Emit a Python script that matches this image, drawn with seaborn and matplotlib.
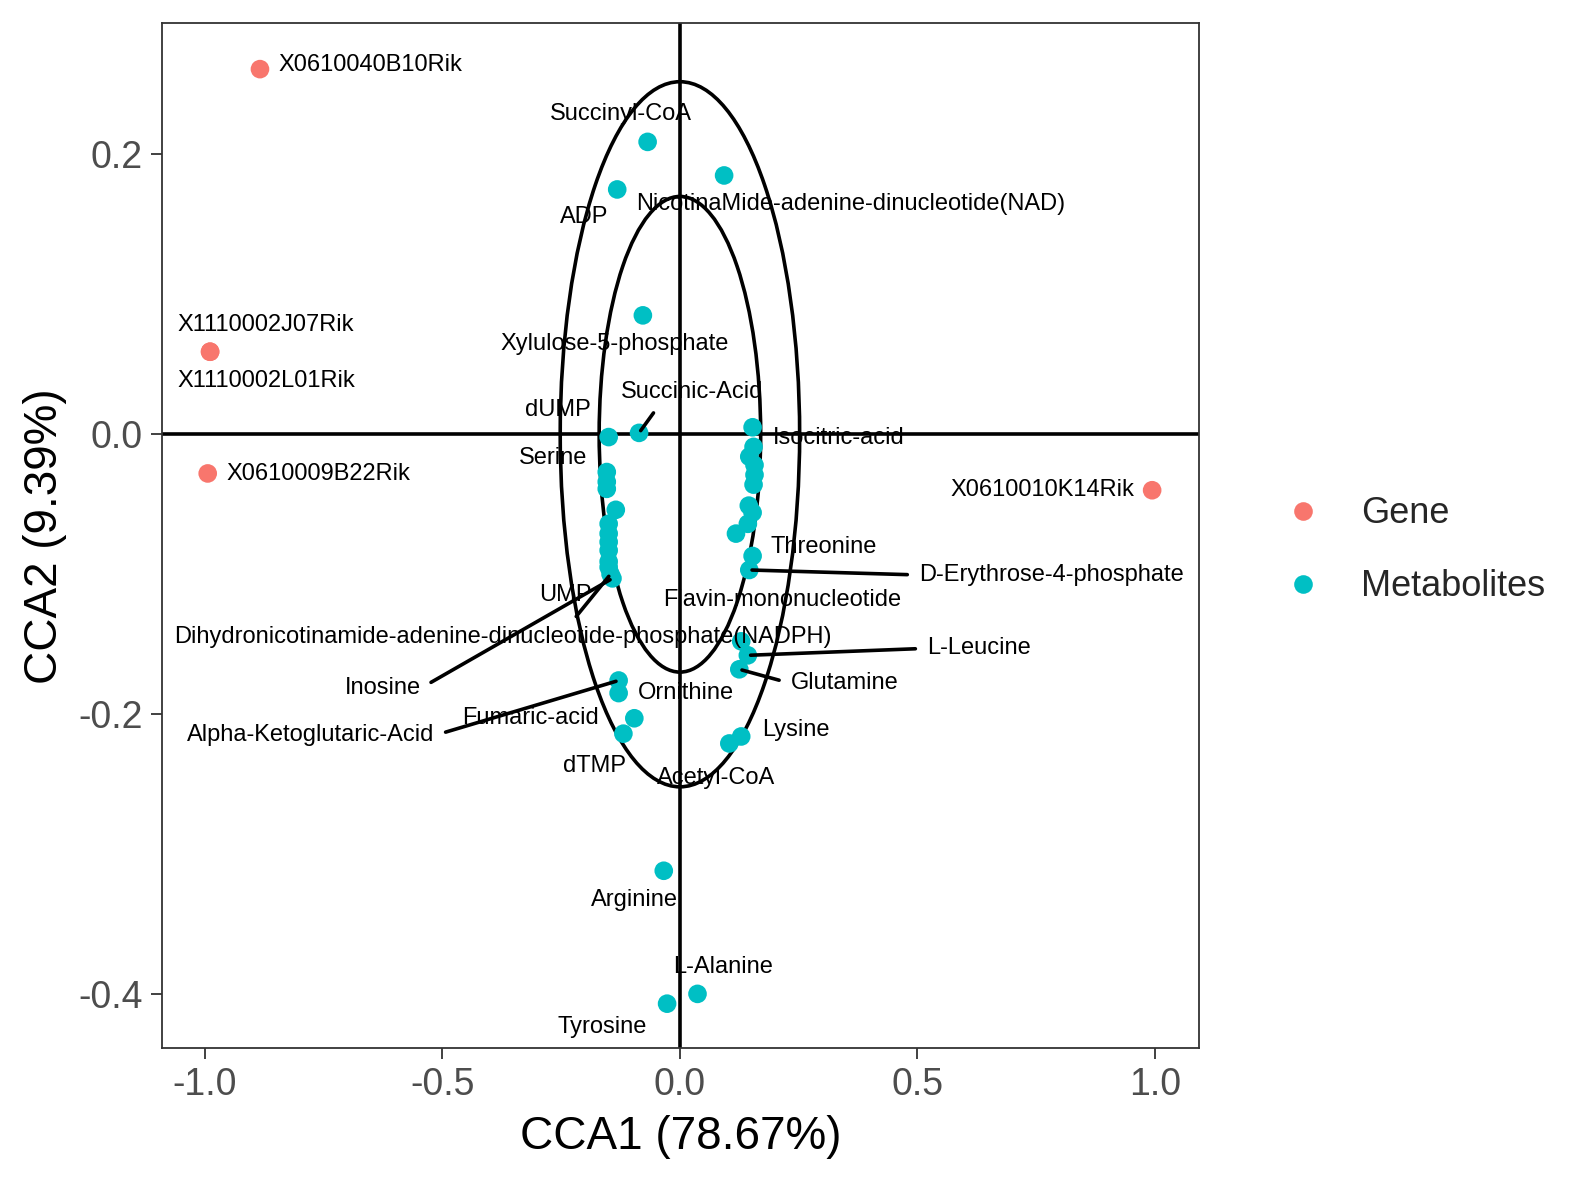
"""CCA biplot of genes and metabolites with correlation circles."""

import pandas as pd
import matplotlib
matplotlib.use("Agg")
import matplotlib.pyplot as plt
from matplotlib.patches import Ellipse
import seaborn as sns

sns.set_theme(style="white")
plt.rcParams['font.family'] = ['Liberation Sans', 'DejaVu Sans']

# Gene scores
gene_names = ["X0610040B10Rik", "X1110002J07Rik", "X1110002L01Rik",
              "X0610009B22Rik", "X0610010K14Rik"]
gene_x = [-0.884, -0.989, -0.989, -0.994, 0.994]
gene_y = [0.261, 0.059, 0.059, -0.028, -0.040]

# Metabolite scores ("" = point without a label)
met_names = [
    "Succinyl-CoA", "NicotinaMide-adenine-dinucleotide(NAD)", "ADP",
    "Xylulose-5-phosphate", "Succinic-Acid", "dUMP", "Isocitric-acid",
    # left cluster
    "Serine", "", "", "", "", "", "", "", "UMP", "",
    "Dihydronicotinamide-adenine-dinucleotide-phosphate(NADPH)", "Inosine",
    # right cluster
    "", "", "", "", "", "", "", "", "Flavin-mononucleotide", "Threonine",
    "D-Erythrose-4-phosphate",
    # lower right
    "", "L-Leucine", "Glutamine", "Lysine", "Acetyl-CoA",
    # lower left
    "Alpha-Ketoglutaric-Acid", "Ornithine", "Fumaric-acid", "dTMP",
    # bottom
    "Arginine", "L-Alanine", "Tyrosine",
]
met_x = [
    -0.068, 0.093, -0.132, -0.078, -0.086, -0.150, 0.153,
    -0.154, -0.154, -0.154, -0.135, -0.150, -0.150, -0.150, -0.150, -0.150, -0.150,
    -0.146, -0.142,
    0.155, 0.146, 0.157, 0.157, 0.155, 0.145, 0.153, 0.143, 0.118, 0.153, 0.146,
    0.129, 0.143, 0.125, 0.129, 0.104,
    -0.129, -0.129, -0.096, -0.119,
    -0.034, 0.037, -0.027,
]
met_y = [
    0.209, 0.185, 0.175, 0.085, 0.001, -0.002, 0.005,
    -0.027, -0.034, -0.039, -0.054, -0.064, -0.071, -0.077, -0.083, -0.091, -0.095,
    -0.100, -0.103,
    -0.009, -0.016, -0.022, -0.029, -0.036, -0.051, -0.056, -0.064, -0.071, -0.087,
    -0.097,
    -0.148, -0.158, -0.168, -0.216, -0.221,
    -0.176, -0.185, -0.203, -0.214,
    -0.312, -0.400, -0.407,
]

# Label placement (offset in pixels from point; relpos for a leader segment)
LABEL_OFFSETS = {
    "X0610040B10Rik": (110, 4, None),
    "X1110002J07Rik": (56, 27, None),
    "X1110002L01Rik": (56, -29, None),
    "X0610009B22Rik": (111, -1, None),
    "X0610010K14Rik": (-110, 0, None),
    "Succinyl-CoA": (-27, 28, None),
    "NicotinaMide-adenine-dinucleotide(NAD)": (127, -29, None),
    "ADP": (-33, -28, None),
    "Xylulose-5-phosphate": (-28, -29, None),
    "Succinic-Acid": (53, 41, (0.28, 0.0)),
    "dUMP": (-51, 27, None),
    "Isocitric-acid": (86, -11, None),
    "Serine": (-54, 14, None),
    "Threonine": (71, 9, None),
    "D-Erythrose-4-phosphate": (302, -5, (0.0, 0.5)),
    "UMP": (-43, -33, None),
    "Flavin-mononucleotide": (46, -66, None),
    "Dihydronicotinamide-adenine-dinucleotide-phosphate(NADPH)": (-108, -63, (0.6, 1.0)),
    "L-Leucine": (231, 7, (0.0, 0.5)),
    "Inosine": (-230, -110, (1.0, 0.5)),
    "Glutamine": (105, -14, (0.0, 0.5)),
    "Ornithine": (67, 0, None),
    "Alpha-Ketoglutaric-Acid": (-308, -55, (1.0, 0.5)),
    "Fumaric-acid": (-104, 0, None),
    "Lysine": (55, 6, None),
    "dTMP": (-29, -32, None),
    "Acetyl-CoA": (-13, -35, None),
    "Arginine": (-29, -29, None),
    "L-Alanine": (26, 27, None),
    "Tyrosine": (-65, -23, None),
}

df = pd.concat([
    pd.DataFrame({"name": gene_names, "CCA1": gene_x, "CCA2": gene_y, "group": "Gene"}),
    pd.DataFrame({"name": met_names, "CCA1": met_x, "CCA2": met_y, "group": "Metabolites"}),
], ignore_index=True)

fig = plt.figure(figsize=(15.94, 11.81), dpi=100)
ax = fig.add_axes([0.1017, 0.1126, 0.6503, 0.8676])

# Reference lines and circles
ax.axhline(0, color='black', lw=2.6, zorder=1)
ax.axvline(0, color='black', lw=2.6, zorder=1)
for r in (0.252, 0.17):
    ax.add_patch(Ellipse((0, 0), 2 * r, 2 * r, fill=False, edgecolor='black',
                         lw=2.6, zorder=1))

sns.scatterplot(data=df, x="CCA1", y="CCA2", hue="group",
                palette={"Gene": "#F8766D", "Metabolites": "#00BFC4"},
                s=180, edgecolor='none', linewidth=0, zorder=2, ax=ax)

for _, row in df.iterrows():
    if not row["name"]:
        continue
    dx, dy, relpos = LABEL_OFFSETS[row["name"]]
    arrow = None
    if relpos is not None:
        arrow = dict(arrowstyle='-', color='black', lw=2.6, relpos=relpos,
                     shrinkA=6, shrinkB=2)
    ax.annotate(row["name"], (row["CCA1"], row["CCA2"]), xytext=(dx, dy),
                textcoords='offset pixels', ha='center', va='center',
                fontsize=17, color='black', zorder=3, arrowprops=arrow)

ax.set_xlim(-1.09, 1.092)
ax.set_ylim(-0.4387, 0.2937)
ax.set_xticks([-1.0, -0.5, 0.0, 0.5, 1.0])
ax.set_yticks([-0.4, -0.2, 0.0, 0.2])
ax.set_xticklabels(["-1.0", "-0.5", "0.0", "0.5", "1.0"])
ax.set_yticklabels(["-0.4", "-0.2", "0.0", "0.2"])
ax.tick_params(axis='both', length=8, width=1.3, color='#333333',
               labelcolor='#4D4D4D', labelsize=27, pad=6, left=True, bottom=True)
for sp in ax.spines.values():
    sp.set_color('#333333')
    sp.set_linewidth(1.3)

ax.set_xlabel("CCA1 (78.67%)", fontsize=33, color='black', labelpad=8)
ax.set_ylabel("CCA2 (9.39%)", fontsize=33, color='black', labelpad=8)

handles, labels = ax.get_legend_handles_labels()
ax.legend(handles, labels, loc='center left', bbox_to_anchor=(0.786, 0.534),
          bbox_transform=fig.transFigure, frameon=False, fontsize=26,
          handlelength=1.0, handletextpad=1.1, labelspacing=1.05, markerscale=1.0)

fig.savefig("out.png", dpi=100)
